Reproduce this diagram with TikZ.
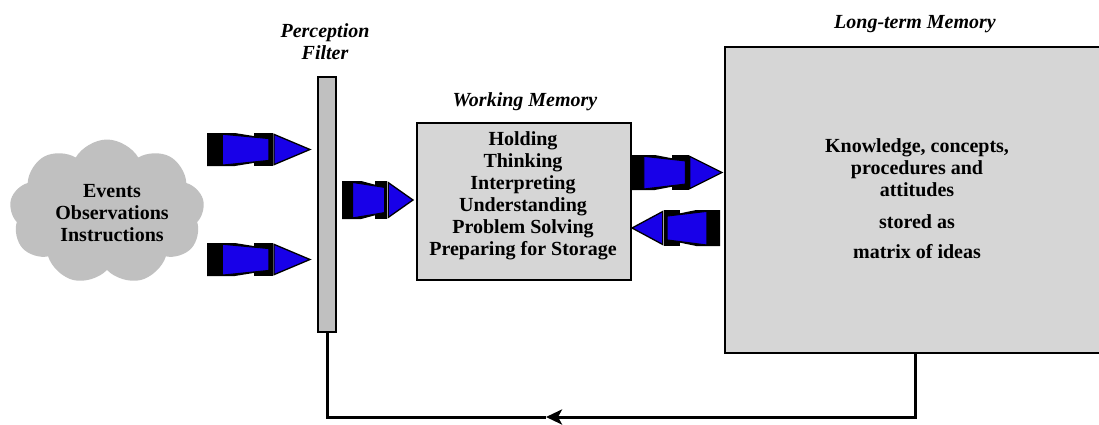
\documentclass[tikz,border=0pt]{standalone}
\usepackage{fontspec}
\setmainfont{Liberation Serif}
\usetikzlibrary{shapes.symbols,arrows.meta}

\definecolor{arrowblue}{RGB}{24,0,232}
\definecolor{cloudgray}{RGB}{192,192,192}
\definecolor{filtergray}{RGB}{192,192,192}
\definecolor{boxgray}{RGB}{214,214,214}

\tikzset{
  title/.style={font=\fontsize{20}{22}\selectfont\bfseries\itshape, align=center, inner sep=0pt},
  body/.style={font=\fontsize{20}{22}\selectfont\bfseries, align=center, inner sep=0pt},
  membox/.style={draw=black, line width=1.8pt, fill=boxgray, inner sep=0pt},
  feedback/.style={line width=3pt},
  pics/fatarrow/.style={code={
    % dark back plate and collar behind the blue body
    \fill[black] (0,0) -- (0.27,0) -- (0.47,0.1) -- (0.47,0.9) -- (0.27,1) -- (0,1) -- cycle;
    \fill[black] (0.46,0) rectangle (0.64,1);
    % blue tapered shaft
    \filldraw[fill=arrowblue, draw=black, line width=0.9pt]
      (0.15,0.04) -- (0.6,0.17) -- (0.6,0.83) -- (0.15,0.97) -- cycle;
    % blue head
    \filldraw[fill=arrowblue, draw=black, line width=1.3pt]
      (0.65,0.04) -- (1,0.5) -- (0.65,0.96) -- cycle;
  }}
}

\begin{document}
\begin{tikzpicture}[x=1pt, y=-1pt]
  \useasboundingbox (0,0) rectangle (1099,425);

  % sources
  \node[cloud, cloud puffs=9, cloud puff arc=120, aspect=1.4,
        fill=cloudgray, minimum width=195pt, minimum height=145pt,
        inner sep=0pt] (src) at (107,212) {};
  \node[body] (srctext) at (112,213)
    {Events\\Observations\\Instructions};

  % perception filter
  \node[draw=black, line width=1.5pt, fill=filtergray, minimum width=18pt,
        minimum height=255pt, inner sep=0pt] (filter) at (327,204.5) {};
  \node[title] (filtertitle) at (325,42) {Perception\\Filter};

  % working memory
  \node[membox, minimum width=214pt, minimum height=157pt] (wm) at (524,201.5) {};
  \node[title] (wmtitle) at (525,102) {Working Memory};
  \node[body] (wmtext) at (523,196)
    {Holding\\Thinking\\Interpreting\\Understanding\\Problem Solving\\Preparing for Storage};

  % long-term memory
  \node[membox, minimum width=382pt, minimum height=306pt] (ltm) at (916,200) {};
  \node[title] (ltmtitle) at (915,24) {Long-term Memory};
  \node[body] (ltmtext) at (917,199)
    {Knowledge, concepts,\\procedures and\\attitudes\\[10pt]stored as\\[8pt]matrix of ideas};

  % block arrows
  \pic[shift={(207,133)}, xscale=103, yscale=33] {fatarrow};
  \pic[shift={(207,243)}, xscale=103, yscale=33] {fatarrow};
  \pic[shift={(342,181)}, xscale=71, yscale=38] {fatarrow};
  \pic[shift={(630,155)}, xscale=92, yscale=35] {fatarrow};
  \pic[shift={(720,210)}, xscale=-88, yscale=36] {fatarrow};

  % feedback loop from long-term memory back to the filter
  \coordinate (drop) at (915,353);
  \coordinate (turn) at (546,417);
  \draw[feedback, -{Stealth[length=16pt, width=15pt, inset=4pt]}]
    (drop) |- (turn);
  \draw[feedback] (turn) -| (filter.south);
\end{tikzpicture}
\end{document}
